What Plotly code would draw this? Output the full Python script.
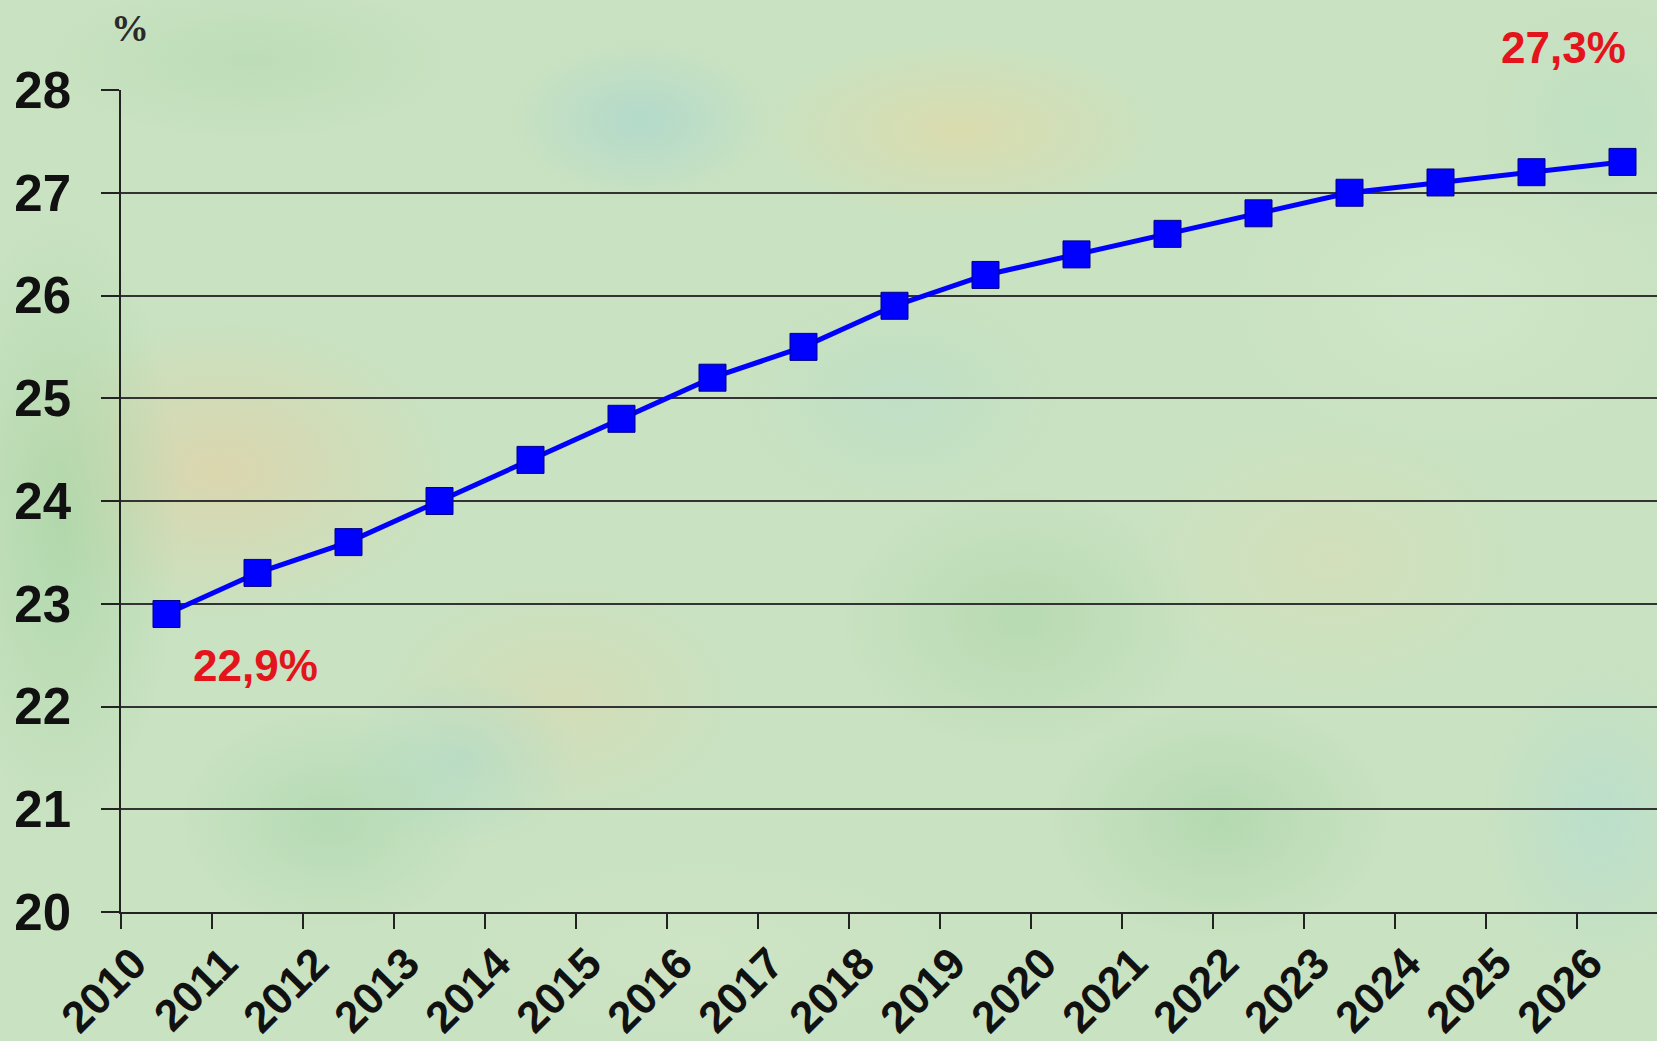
import base64
import plotly.graph_objects as go

# ---- data ----
years = [str(y) for y in range(2010, 2027)]
share = [22.9, 23.3, 23.6, 24.0, 24.4, 24.8, 25.2, 25.5, 25.9, 26.2,
         26.4, 26.6, 26.8, 27.0, 27.1, 27.2, 27.3]
y_ticks = [20, 21, 22, 23, 24, 25, 26, 27, 28]
unit_label = "%"

# ---- layout constants ----
W, H = 1657, 1041
L, R, T, B = 121, 0, 90, 129
PW, PH = W - L - R, H - T - B

# soft background (textured paper look)
blobs = [
    (220, 470, 230, 150, "#e0d2a8", 0.75),
    (960, 130, 200, 90, "#e2d9a6", 0.7),
    (640, 120, 130, 80, "#a9d6cf", 0.7),
    (560, 700, 180, 120, "#dcd9b0", 0.55),
    (1330, 560, 200, 140, "#dcdcb4", 0.5),
    (60, 520, 120, 300, "#a6d4a4", 0.7),
    (330, 820, 150, 110, "#a8d6ac", 0.6),
    (460, 760, 120, 90, "#a8d8c8", 0.5),
    (1020, 620, 180, 130, "#a9d4a6", 0.55),
    (1220, 820, 170, 120, "#a6d3a6", 0.6),
    (1600, 820, 120, 160, "#b2ddd2", 0.6),
    (900, 400, 160, 110, "#b4dccc", 0.45),
    (1600, 120, 120, 120, "#b6dfc4", 0.5),
    (250, 60, 200, 80, "#b0d8ae", 0.5),
    (1450, 300, 220, 150, "#d4e8cc", 0.6),
    (700, 950, 250, 90, "#d2e6c8", 0.6),
]
defs, shapes = [], []
for i, (cx, cy, rx, ry, col, op) in enumerate(blobs):
    defs.append(
        f'<radialGradient id="g{i}"><stop offset="0" stop-color="{col}" stop-opacity="{op}"/>'
        f'<stop offset="1" stop-color="{col}" stop-opacity="0"/></radialGradient>')
    shapes.append(f'<ellipse cx="{cx}" cy="{cy}" rx="{rx}" ry="{ry}" fill="url(#g{i})"/>')
svg = (f'<svg xmlns="http://www.w3.org/2000/svg" width="{W}" height="{H}" viewBox="0 0 {W} {H}">'
       f'<defs>{"".join(defs)}</defs><rect width="{W}" height="{H}" fill="#c9e2c1"/>'
       f'{"".join(shapes)}</svg>')
bg_src = "data:image/svg+xml;base64," + base64.b64encode(svg.encode()).decode()

fig = go.Figure()
fig.add_trace(go.Scatter(
    x=years, y=share, mode="lines+markers",
    line=dict(color="#0000ff", width=5),
    marker=dict(symbol="square", size=27, color="#0000ff",
                line=dict(color="#00008a", width=1)),
    hoverinfo="x+y", showlegend=False,
))

def fmt(v):
    return f"{v:.1f}%".replace(".", ",")

red = "#e3141c"
first, last = 0, len(years) - 1
fig.add_annotation(x=first, y=share[first], text=fmt(share[first]), showarrow=False,
                   xshift=89, yshift=-51,
                   font=dict(family="Liberation Sans, Arial", size=44, color=red, weight="bold"))
fig.add_annotation(x=last, y=share[last], text=fmt(share[last]), showarrow=False,
                   xshift=-59, yshift=114,
                   font=dict(family="Liberation Sans, Arial", size=44, color=red, weight="bold"))
fig.add_annotation(xref="paper", yref="paper", x=(130 - L) / PW, y=1 + (T - 28) / PH,
                   text=unit_label, showarrow=False, xanchor="center", yanchor="middle",
                   font=dict(family="Liberation Serif, Times New Roman", size=38,
                             color="#2a2a2a", weight="bold"))

fig.update_layout(
    width=W, height=H,
    margin=dict(l=L, r=R, t=T, b=B, pad=0),
    paper_bgcolor="#c9e2c1",
    plot_bgcolor="rgba(0,0,0,0)",
    images=[dict(source=bg_src, xref="paper", yref="paper",
                 x=-L / PW, y=1 + T / PH, sizex=W / PW, sizey=H / PH,
                 xanchor="left", yanchor="top", sizing="stretch", layer="below")],
    xaxis=dict(
        type="category", range=[-0.5, (PW / 91.0) - 0.5],
        tickson="boundaries", ticks="outside", ticklen=15, tickwidth=1.5, tickcolor="#222",
        showline=True, linecolor="#222", linewidth=1.5, showgrid=False, zeroline=False,
        tickangle=-45, ticklabelshift=-33, ticklabelstandoff=6,
        tickfont=dict(family="Liberation Sans, Arial", size=44, color="#111", weight="bold"),
    ),
    yaxis=dict(
        range=[20, 28], tickvals=y_ticks, ticks="outside", ticklen=18, tickwidth=1.5,
        tickcolor="#222", showline=True, linecolor="#222", linewidth=1.5,
        showgrid=True, gridcolor="#333", gridwidth=1.5, zeroline=False,
        ticklabelstandoff=20,
        tickfont=dict(family="Liberation Sans, Arial", size=51, color="#111", weight="bold"),
    ),
)

fig.write_html("out.html", config={"displayModeBar": False},
               post_script="document.body.style.margin='0';document.body.style.overflow='hidden';")
